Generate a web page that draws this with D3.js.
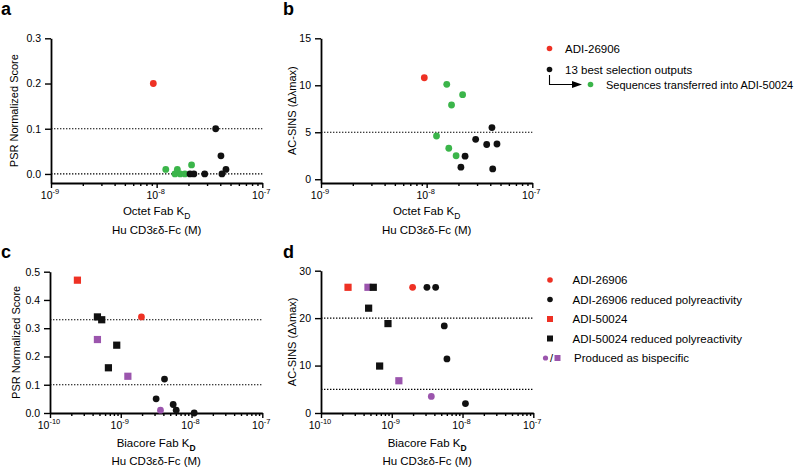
<!DOCTYPE html>
<html><head><meta charset="utf-8">
<script src="https://cdn.jsdelivr.net/npm/d3@7"></script>
<style>body{margin:0;background:#fff}svg{display:block}text{font-family:"Liberation Sans",Arial,sans-serif}</style>
</head><body>
<script>
// ---------- DATA ----------
// Panel a: PSR normalized score vs Octet Fab KD
const aRedKD = [9.3e-9], aRedPSR = [0.20];
const aGreenKD = [1.22e-8, 1.49e-8, 1.57e-8, 1.67e-8, 1.85e-8, 2.14e-8];
const aGreenPSR = [0.01, 0.00, 0.01, 0.00, 0.00, 0.02];
const aBlackKD = [2.07e-8, 2.25e-8, 2.85e-8, 3.62e-8, 4.06e-8, 4.15e-8, 4.53e-8];
const aBlackPSR = [0.00, 0.00, 0.00, 0.10, 0.04, 0.00, 0.01];
// Panel b: AC-SINS vs Octet Fab KD
const bRedKD = [9.5e-9], bRedSINS = [10.8];
const bGreenKD = [1.55e-8, 2.19e-8, 1.72e-8, 1.24e-8, 1.62e-8, 1.90e-8];
const bGreenSINS = [10.1, 9.0, 7.9, 4.6, 3.3, 2.5];
const bBlackKD = [4.15e-8, 2.91e-8, 3.70e-8, 4.63e-8, 2.31e-8, 2.11e-8, 4.22e-8];
const bBlackSINS = [5.5, 4.25, 3.7, 3.75, 2.45, 1.28, 1.1];
// Panel c: PSR vs Biacore Fab KD
const cRedSqKD = [2.44e-10], cRedSqPSR = [0.47];
const cPurpleSqKD = [4.68e-10, 1.26e-9], cPurpleSqPSR = [0.26, 0.13];
const cBlackSqKD = [4.68e-10, 5.38e-10, 8.77e-10, 6.69e-10], cBlackSqPSR = [0.34, 0.33, 0.24, 0.16];
const cRedCiKD = [1.96e-9], cRedCiPSR = [0.34];
const cPurpleCiKD = [3.64e-9], cPurpleCiPSR = [0.01];
const cBlackCiKD = [4.15e-9, 3.16e-9, 5.5e-9, 6.07e-9, 1.09e-8], cBlackCiPSR = [0.12, 0.05, 0.03, 0.01, 0.00];
// Panel d: AC-SINS vs Biacore Fab KD
const dRedSqKD = [2.41e-10], dRedSqSINS = [26.5];
const dPurpleSqKD = [4.61e-10, 1.26e-9], dPurpleSqSINS = [26.5, 6.8];
const dBlackSqKD = [5.48e-10, 4.71e-10, 8.84e-10, 6.74e-10], dBlackSqSINS = [26.5, 22.1, 18.85, 9.9];
const dRedCiKD = [1.97e-9], dRedCiSINS = [26.5];
const dPurpleCiKD = [3.62e-9], dPurpleCiSINS = [3.5];
const dBlackCiKD = [3.14e-9, 4.17e-9, 5.52e-9, 6.02e-9, 1.10e-8], dBlackCiSINS = [26.5, 26.5, 18.35, 11.4, 1.98];

const yTicksA = [0, 0.1, 0.2, 0.3], yTicksB = [0, 5, 10, 15];
const yTicksC = [0, 0.1, 0.2, 0.3, 0.4, 0.5], yTicksD = [0, 10, 20, 30];
const refA = [0.1, 0.0], refB = [5], refC = [0.33, 0.1], refD = [20, 5];
const legendTop = ["ADI-26906", "13 best selection outputs", "Sequences transferred into ADI-50024"];
const legendBottom = ["ADI-26906", "ADI-26906 reduced polyreactivity", "ADI-50024", "ADI-50024 reduced polyreactivity", "Produced as bispecific"];

// ---------- STYLE ----------
const RED = "#ee3124", GREEN = "#3bb54a", PURPLE = "#9b55ad", BLACK = "#111";
const W = 800, H = 467;
const svg = d3.select("body").append("svg").attr("width", W).attr("height", H);

const zip = (xs, ys) => xs.map((x, i) => [x, ys[i]]);

function panel(o) {
  const g = svg.append("g");
  const x = d3.scaleLog().domain(o.xDom).range(o.xRange);
  const y = d3.scaleLinear().domain(o.yDom).range(o.yRange);
  const y0 = o.yRange[0];
  // reference lines
  g.selectAll(".ref").data(o.refs).enter().append("line")
    .attr("x1", o.xRange[0]).attr("x2", o.xRange[1])
    .attr("y1", d => y(d)).attr("y2", d => y(d))
    .attr("stroke", "#000").attr("stroke-width", 1.2).attr("stroke-dasharray", "1.4 1.6");
  // y axis
  const ya = g.append("g").attr("transform", `translate(${o.xRange[0]},0)`)
    .call(d3.axisLeft(y).tickValues(o.yTicks).tickFormat(o.yFmt).tickSize(6).tickPadding(4).tickSizeOuter(0));
  // x axis major
  const majors = [];
  for (let e = Math.round(Math.log10(o.xDom[0])); e <= Math.round(Math.log10(o.xDom[1])); e++) majors.push(Math.pow(10, e));
  const minors = [];
  majors.slice(0, -1).forEach(m => { for (let k = 2; k <= 9; k++) minors.push(m * k); });
  const xa = g.append("g").attr("transform", `translate(0,${y0})`)
    .call(d3.axisBottom(x).tickValues(majors).tickFormat("").tickSize(5).tickSizeOuter(0));
  g.append("g").attr("transform", `translate(0,${y0})`)
    .call(d3.axisBottom(x).tickValues(minors).tickFormat("").tickSize(3).tickSizeOuter(0))
    .select(".domain").remove();
  // major labels with superscripts
  g.selectAll(".xl").data(majors).enter().append("text")
    .attr("x", d => x(d) - 1).attr("y", y0 + 15.5).attr("text-anchor", "middle")
    .attr("font-size", 10.5).each(function (d) {
      const t = d3.select(this);
      t.append("tspan").text("10");
      t.append("tspan").attr("dy", -4.5).attr("font-size", 7.5).text(String(Math.round(Math.log10(d))));
    });
  [ya, xa].forEach(a => {
    a.selectAll("path,line").attr("stroke", "#000").attr("stroke-width", 1.8);
    a.selectAll("text").attr("font-size", 10.5).attr("fill", "#000").style("font-family", '"Liberation Sans",Arial,sans-serif');
  });
  g.selectAll(".tick line").attr("stroke", "#000").attr("stroke-width", 1.4);
  // titles
  const cx = (o.xRange[0] + o.xRange[1]) / 2;
  const t1 = g.append("text").attr("x", cx).attr("y", o.xt1).attr("text-anchor", "middle").attr("font-size", 11.5);
  t1.append("tspan").text(o.xTitle);
  t1.append("tspan").attr("dy", 3.5).attr("font-size", 8.5).attr("font-weight", o.subBold ? "bold" : "normal").text("D");
  g.append("text").attr("x", cx).attr("y", o.xt2).attr("text-anchor", "middle").attr("font-size", 11.5).text("Hu CD3εδ-Fc (M)");
  const my = (o.yRange[0] + o.yRange[1]) / 2;
  g.append("text").attr("transform", `translate(${o.ytX},${my}) rotate(-90)`).attr("text-anchor", "middle")
    .attr("font-size", 11).text(o.yTitle);
  // panel letter
  g.append("text").attr("x", o.letterX).attr("y", o.letterY).attr("font-size", 18).attr("font-weight", "bold").text(o.letter);
  // points
  o.series.forEach(s => {
    const pts = zip(s.x, s.y);
    if (s.shape === "sq") {
      g.selectAll(null).data(pts).enter().append("rect")
        .attr("x", d => x(d[0]) - 3.6).attr("y", d => y(d[1]) - 3.6).attr("width", 7.2).attr("height", 7.2)
        .attr("fill", s.color);
    } else {
      g.selectAll(null).data(pts).enter().append("circle")
        .attr("cx", d => x(d[0])).attr("cy", d => y(d[1])).attr("r", 3.4).attr("fill", s.color);
    }
  });
}

panel({
  letter: "a", letterX: 1, letterY: 15,
  xDom: [1e-9, 1e-7], xRange: [51, 262.3], yDom: [-0.02, 0.3], yRange: [183, 38.3],
  yTicks: yTicksA, yFmt: d3.format(".1f"), refs: refA,
  xTitle: "Octet Fab K", xt1: 215, xt2: 234, yTitle: "PSR Normalized Score", ytX: 18,
  series: [
    { x: aGreenKD, y: aGreenPSR, color: GREEN },
    { x: aBlackKD, y: aBlackPSR, color: BLACK },
    { x: aRedKD, y: aRedPSR, color: RED }]
});
panel({
  letter: "b", letterX: 283, letterY: 15,
  xDom: [1e-9, 1e-7], xRange: [321, 532.3], yDom: [-0.4, 15], yRange: [183, 38.3],
  yTicks: yTicksB, yFmt: d3.format("d"), refs: refB,
  xTitle: "Octet Fab K", xt1: 215, xt2: 234, yTitle: "AC-SINS (Δλmax)", ytX: 295.5,
  series: [
    { x: bGreenKD, y: bGreenSINS, color: GREEN },
    { x: bBlackKD, y: bBlackSINS, color: BLACK },
    { x: bRedKD, y: bRedSINS, color: RED }]
});
panel({
  letter: "c", letterX: 1, letterY: 258,
  xDom: [1e-10, 1e-7], xRange: [50, 262.3], yDom: [0, 0.5], yRange: [413, 271.7],
  yTicks: yTicksC, yFmt: d3.format(".1f"), refs: refC, subBold: true,
  xTitle: "Biacore Fab K", xt1: 447, xt2: 465, yTitle: "PSR Normalized Score", ytX: 19.5,
  series: [
    { x: cRedSqKD, y: cRedSqPSR, color: RED, shape: "sq" },
    { x: cPurpleSqKD, y: cPurpleSqPSR, color: PURPLE, shape: "sq" },
    { x: cBlackSqKD, y: cBlackSqPSR, color: BLACK, shape: "sq" },
    { x: cRedCiKD, y: cRedCiPSR, color: RED },
    { x: cPurpleCiKD, y: cPurpleCiPSR, color: PURPLE },
    { x: cBlackCiKD, y: cBlackCiPSR, color: BLACK }]
});
panel({
  letter: "d", letterX: 283, letterY: 258,
  xDom: [1e-10, 1e-7], xRange: [321, 533.3], yDom: [0, 30], yRange: [413, 270.7],
  yTicks: yTicksD, yFmt: d3.format("d"), refs: refD, subBold: true,
  xTitle: "Biacore Fab K", xt1: 447, xt2: 465, yTitle: "AC-SINS (Δλmax)", ytX: 295.5,
  series: [
    { x: dRedSqKD, y: dRedSqSINS, color: RED, shape: "sq" },
    { x: dPurpleSqKD, y: dPurpleSqSINS, color: PURPLE, shape: "sq" },
    { x: dBlackSqKD, y: dBlackSqSINS, color: BLACK, shape: "sq" },
    { x: dRedCiKD, y: dRedCiSINS, color: RED },
    { x: dPurpleCiKD, y: dPurpleCiSINS, color: PURPLE },
    { x: dBlackCiKD, y: dBlackCiSINS, color: BLACK }]
});

// ---------- LEGENDS ----------
const lg = svg.append("g").attr("font-size", 11.5);
// top legend
lg.append("circle").attr("cx", 549.5).attr("cy", 48.5).attr("r", 2.8).attr("fill", RED);
lg.append("text").attr("x", 565).attr("y", 52.5).text(legendTop[0]);
lg.append("circle").attr("cx", 549.5).attr("cy", 69.5).attr("r", 2.8).attr("fill", BLACK);
lg.append("text").attr("x", 565).attr("y", 73.5).text(legendTop[1]);
lg.append("path").attr("d", "M549.5,75 V84.5 H573").attr("fill", "none").attr("stroke", "#000").attr("stroke-width", 1.1);
lg.append("path").attr("d", "M572,81 L582,84.5 L572,88 Z").attr("fill", "#000");
lg.append("circle").attr("cx", 590.5).attr("cy", 84.5).attr("r", 2.8).attr("fill", GREEN);
lg.append("text").attr("x", 606).attr("y", 88.5).attr("font-size", 11).text(legendTop[2]);
// bottom legend
const by = [280, 299.5, 319, 338.5, 358];
lg.append("circle").attr("cx", 550).attr("cy", by[0]).attr("r", 2.8).attr("fill", RED);
lg.append("circle").attr("cx", 550).attr("cy", by[1]).attr("r", 2.8).attr("fill", BLACK);
lg.append("rect").attr("x", 547).attr("y", by[2] - 3).attr("width", 6).attr("height", 6).attr("fill", RED);
lg.append("rect").attr("x", 547).attr("y", by[3] - 3).attr("width", 6).attr("height", 6).attr("fill", BLACK);
lg.append("circle").attr("cx", 545.5).attr("cy", by[4]).attr("r", 2.6).attr("fill", PURPLE);
lg.append("text").attr("x", 551.5).attr("y", by[4] + 4).attr("text-anchor", "middle").attr("font-size", 11).text("/");
lg.append("rect").attr("x", 554.5).attr("y", by[4] - 3).attr("width", 6).attr("height", 6).attr("fill", PURPLE);
legendBottom.forEach((t, i) => lg.append("text").attr("x", i === 4 ? 574 : 572.5).attr("y", by[i] + 4).text(t));
</script>
</body></html>
